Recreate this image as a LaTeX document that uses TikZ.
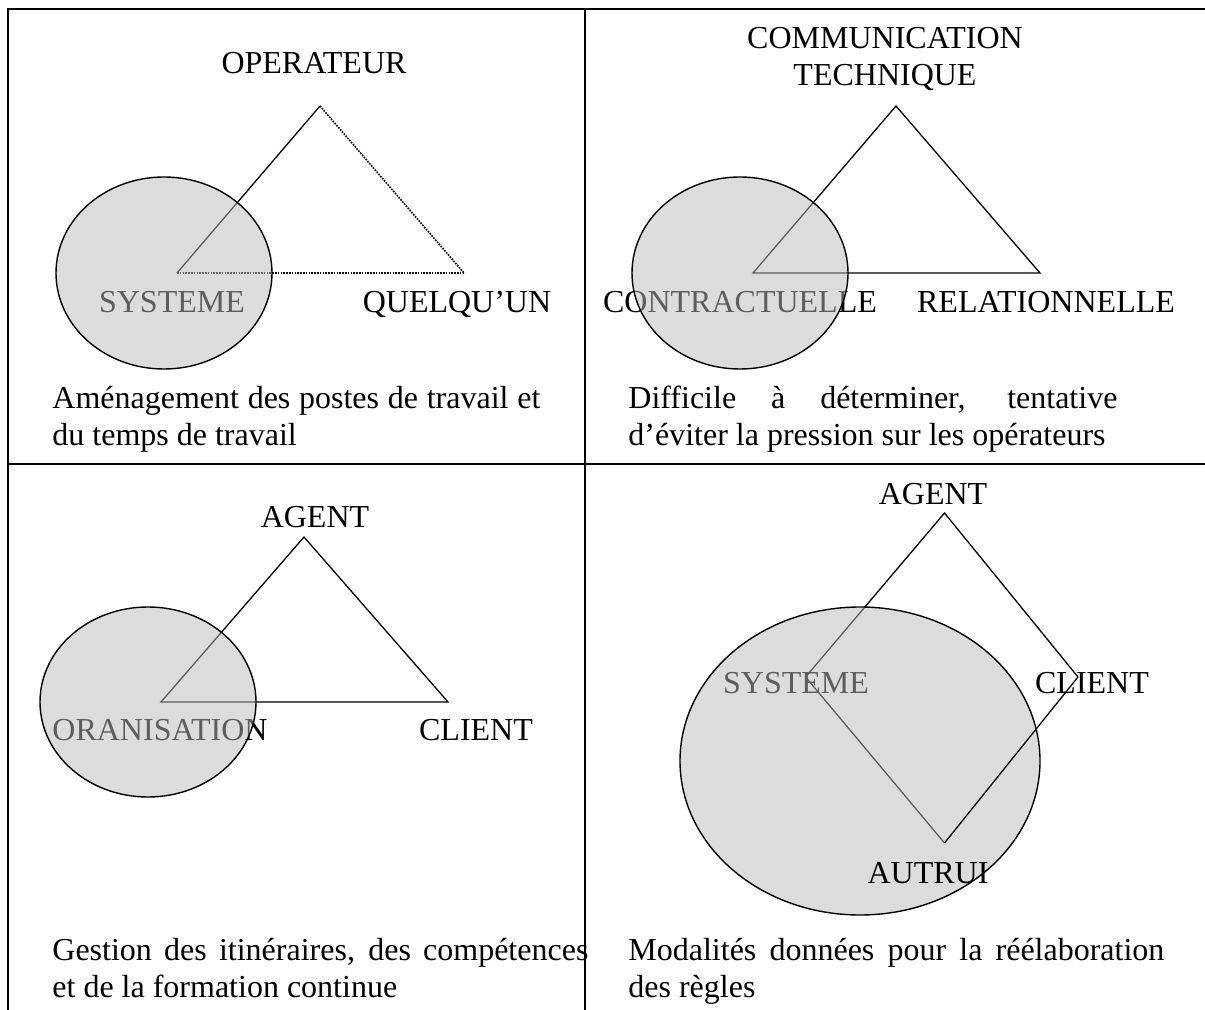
\documentclass[tikz,border=0pt]{standalone}
\usepackage{fontspec}
\setmainfont{Liberation Serif}
\usetikzlibrary{shapes.geometric}
\begin{document}
\begin{tikzpicture}[x=0.5pt,y=-0.5pt,
  lbl/.style={inner sep=0pt, anchor=base, font=\fontsize{16}{18.5}\selectfont},
  captext/.style={inner sep=0pt, anchor=base west, align=justify, font=\fontsize{16}{18.5}\selectfont},
  frameline/.style={line width=1pt},
  segline/.style={line width=0.65pt, line join=miter},
  dotline/.style={line width=0.8pt, dash pattern=on 0.8pt off 0.6pt},
  blob/.style={ellipse, draw=black, line width=0.7pt, fill=black!27, fill opacity=0.5, inner sep=0pt}
]
\useasboundingbox (0,0) rectangle (1205,1010);
% frame
\coordinate (tl) at (7.7,9.3);
\coordinate (tr) at (1205,9.3);
\coordinate (bl) at (7.7,1010);
\coordinate (mt) at (584.5,9.3);
\coordinate (mb) at (584.5,1010);
\coordinate (ml) at (7.7,464);
\coordinate (mr) at (1205,464);
\draw[frameline] (bl) -- (tl) -- (tr);
\draw[frameline] (mt) -- (mb);
\draw[frameline] (ml) -- (mr);

% vertices
\coordinate (a1) at (320,106);
\coordinate (b1) at (177,273);
\coordinate (c1) at (464,273);
\coordinate (a2) at (896,106);
\coordinate (b2) at (753,273);
\coordinate (c2) at (1040,273);
\coordinate (a3) at (304,537);
\coordinate (b3) at (161,702);
\coordinate (c3) at (448,702);
\coordinate (d4t) at (944.5,513);
\coordinate (d4l) at (805.6,677);
\coordinate (d4r) at (1078,677);
\coordinate (d4b) at (944.5,843);

% content under the shaded ellipses
\draw[segline] (b1) -- (a1);
\draw[dotline] (a1) -- (c1);
\draw[dotline] (b1) -- (c1);
\draw[segline] (a2) -- (b2) -- (c2) -- cycle;
\draw[segline] (a3) -- (b3) -- (c3) -- cycle;
\draw[segline] (d4b) -- (d4l) -- (d4t) -- (d4r);

\node[lbl] (sys1) at (172,313) {SYSTEME};
\node[lbl] (contr) at (740,313) {CONTRACTUELLE};
\node[lbl] (orga) at (160,740) {ORANISATION};
\node[lbl] (sys4) at (796,693) {SYSTEME};

% shaded ellipses
\node[blob, minimum width=108pt, minimum height=96pt] (e1) at (164,273) {};
\node[blob, minimum width=108pt, minimum height=96pt] (e2) at (740,273) {};
\node[blob, minimum width=108pt, minimum height=95pt] (e3) at (148,702) {};
\node[blob, minimum width=180pt, minimum height=154pt] (e4) at (860,761) {};

% content over the ellipses
\draw[segline] (d4r) -- (d4b);

\node[lbl] (opr) at (314,74) {OPERATEUR};
\node[lbl] (quel) at (457,313) {QUELQU’UN};
\node[lbl, text width=150pt, align=center] (comm) at (885,48.5) {COMMUNICATION\\TECHNIQUE};
\node[lbl] (relat) at (1046,313) {RELATIONNELLE};
\node[lbl] (agent3) at (315,528) {AGENT};
\node[lbl] (client3) at (476,740) {CLIENT};
\node[lbl] (agent4) at (933,505) {AGENT};
\node[lbl] (client4) at (1092,693) {CLIENT};
\node[lbl] (autrui) at (928,883) {AUTRUI};

% captions
\node[captext, text width=244pt] (cap1) at (52,409) {Aménagement des postes de travail et\linebreak du temps de travail};
\node[captext, text width=244.5pt] (cap2) at (628,409) {Difficile à déterminer, tentative\linebreak d’éviter la pression sur les opérateurs};
\node[captext, text width=268pt] (cap3) at (52,960) {Gestion des itinéraires, des compétences\linebreak et de la formation continue};
\node[captext, text width=268pt] (cap4) at (628,960) {Modalités données pour la réélaboration\linebreak des règles};
\end{tikzpicture}
\end{document}
